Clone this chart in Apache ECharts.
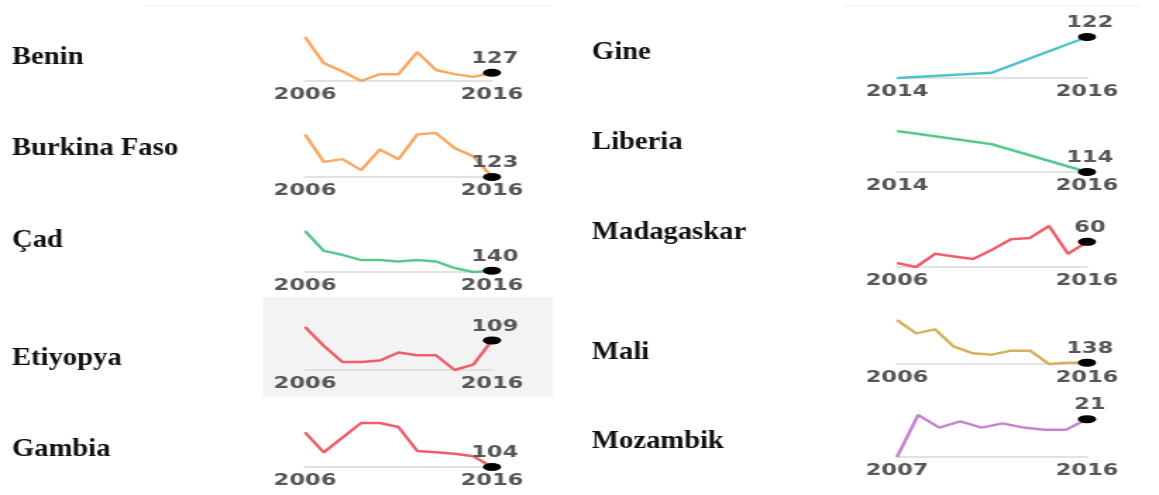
<!DOCTYPE html>
<html><head><meta charset="utf-8">
<script src="https://cdn.jsdelivr.net/npm/echarts@6/dist/echarts.min.js"></script>
<style>
html,body{margin:0;padding:0;background:#fff;overflow:hidden}
#wrap{width:1159px;height:495px;overflow:hidden;position:relative}
#c{width:822px;height:495px;transform:scaleX(1.41);transform-origin:0 0}
</style>
</head><body><div id="wrap"><div id="c"></div></div>
<script>
// ---- data ----
const countries = ['Benin','Burkina Faso','Çad','Etiyopya','Gambia','Gine','Liberia','Madagaskar','Mali','Mozambik'];
const years2006 = ['2006','2007','2008','2009','2010','2011','2012','2013','2014','2015','2016'];
const years2014 = ['2014','2015','2016'];
const years2007 = ['2007','2008','2009','2010','2011','2012','2013','2014','2015','2016'];
const benin       = [153,134,128,121,126,126,142,129,126,124,127];
const burkinaFaso = [154,134,136,128,143,136,154,155,144,138,123];
const cad         = [170,155,152,148,148,147,148,147,142,139,140];
const etiyopya    = [119,105,93,93,94,100,98,98,87,91,109];
const gambia      = [130,115,126,137,137,134,116,115,114,112,104];
const gine        = [91,95,122];
const liberia     = [145,135,114];
const madagaskar  = [44,41,51,49,47,54,62,63,72,51,60];
const mali        = [170,160,163,150,145,144,147,147,137,138,138];
const mozambik    = [3,23,17,20,17,19,17,16,16,21];

const seriesData = [benin,burkinaFaso,cad,etiyopya,gambia,gine,liberia,madagaskar,mali,mozambik];
const seriesYears = [years2006,years2006,years2006,years2006,years2006,years2014,years2014,years2006,years2006,years2007];

// ---- layout & style ----
const S = 1.41;
const colors = ['#f8aa62','#f8aa62','#5ac98d','#ef5f6b','#ef5f6b','#4fc3c9','#58c98c','#ef5f6b','#d4b25e','#c683d1'];
const cols = [{x0:305,x1:492,lx:12},{x0:897,x1:1087,lx:592}];
const panels = [
  {c:0, top:37,  h:44, ly:57},
  {c:0, top:133, h:44, ly:148},
  {c:0, top:231, h:41, ly:240},
  {c:0, top:327, h:43, ly:358},
  {c:0, top:423, h:44, ly:449},
  {c:1, top:37,  h:41, ly:52},
  {c:1, top:131, h:41, ly:142},
  {c:1, top:226, h:41, ly:232},
  {c:1, top:320, h:44, ly:352},
  {c:1, top:415, h:42, ly:441}
];
const labelFont = {fontFamily:'DejaVu Sans', fontWeight:'bold', fontSize:16, color:'#575757'};

const grid=[], xAxis=[], yAxis=[], series=[], graphic=[];
graphic.push({type:'rect', z:-10, shape:{x:263/S, y:297, width:290/S, height:100}, style:{fill:'#f3f3f3'}});
graphic.push({type:'line', z:-10, shape:{x1:145/S, y1:6, x2:552/S, y2:6}, style:{stroke:'#eeeeee', lineWidth:1}});
graphic.push({type:'line', z:-10, shape:{x1:845/S, y1:6, x2:1140/S, y2:6}, style:{stroke:'#eeeeee', lineWidth:1}});

panels.forEach((p,i)=>{
  const col = cols[p.c];
  const yrs = seriesYears[i], vals = seriesData[i], n = yrs.length;
  grid.push({left:col.x0/S, width:(col.x1-col.x0)/S, top:p.top, height:p.h, containLabel:false});
  xAxis.push({gridIndex:i, type:'category', data:yrs, boundaryGap:false,
    axisLine:{show:true, lineStyle:{color:'#e2e2e2', width:2}},
    axisTick:{show:false}, splitLine:{show:false},
    axisLabel:Object.assign({interval:(idx)=> idx===0 || idx===n-1, margin:6}, labelFont)});
  yAxis.push({gridIndex:i, type:'value', min:'dataMin', max:'dataMax', show:false, scale:true});
  series.push({type:'line', xAxisIndex:i, yAxisIndex:i, data:vals, symbol:'none', clip:false, silent:true,
    lineStyle:{color:colors[i], width:2.5}, z:2});
  series.push({type:'scatter', xAxisIndex:i, yAxisIndex:i, data:[[yrs[n-1], vals[n-1]]], clip:false, silent:true,
    symbol:'circle', symbolSize:[13,8], itemStyle:{color:'#000', opacity:1}, z:3,
    label:Object.assign({show:true, position:'top', distance:2, offset:[2,0], formatter:(q)=>String(q.value[1])}, labelFont)});
  graphic.push({type:'text', x:col.lx/S, y:p.ly, scaleX:1.1/S,
    style:{text:countries[i], font:'bold 26px "Liberation Serif"', fill:'#111', verticalAlign:'middle', align:'left'}});
});

const chart = echarts.init(document.getElementById('c'), null, {renderer:'canvas'});
chart.setOption({animation:false, backgroundColor:'#fff', grid, xAxis, yAxis, series, graphic});
</script>
</body></html>
